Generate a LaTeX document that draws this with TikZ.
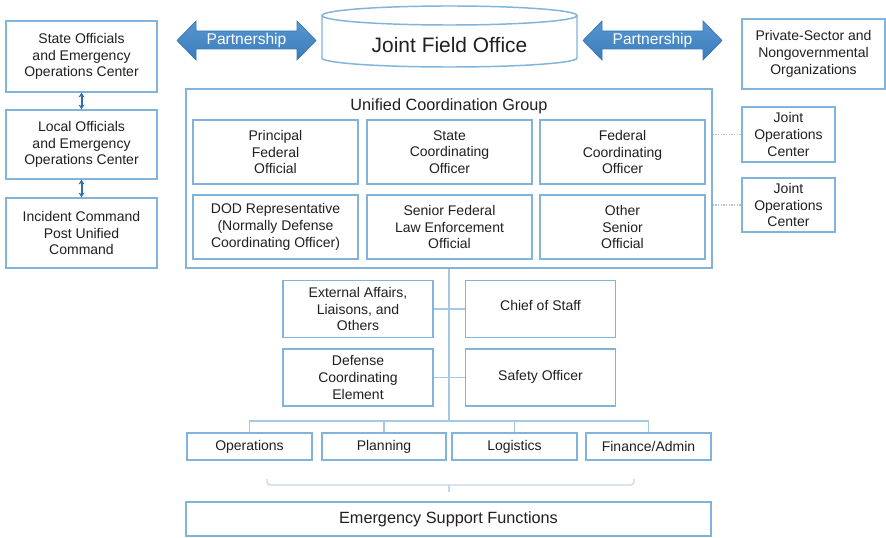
\documentclass[tikz,border=0pt]{standalone}
\usepackage{fontspec}
\setmainfont{Liberation Sans}
\usetikzlibrary{arrows.meta}

\begin{document}
\begin{tikzpicture}[x=0.75pt,y=0.75pt,yscale=-1,xscale=1,
  box/.style={draw={rgb, 255:red, 128; green, 180; blue, 218 }, line width=1.1pt, fill=white,
    inner sep=0pt, align=center, text={rgb, 255:red, 35; green, 31; blue, 32 },
    font=\fontsize{10.5}{12.5}\selectfont},
  link/.style={draw={rgb, 255:red, 165; green, 200; blue, 228 }, line width=0.9pt},
  dotline/.style={draw={rgb, 255:red, 180; green, 196; blue, 212 }, line width=1pt, dash pattern=on 1pt off 1pt},
  updown/.style={draw={rgb, 255:red, 44; green, 112; blue, 172 }, line width=1.5pt,
    {Stealth[length=3.5pt,width=4.5pt]}-{Stealth[length=3.5pt,width=4.5pt]}},
  partner/.style={top color={rgb, 255:red, 88; green, 150; blue, 208 }, bottom color={rgb, 255:red, 58; green, 124; blue, 188 },
    draw={rgb, 255:red, 55; green, 118; blue, 178 }, line width=0.5pt},
  bracket/.style={draw={rgb, 255:red, 196; green, 214; blue, 232 }, line width=0.9pt}
]
\useasboundingbox (0,0) rectangle (886,538);

%Shape: Double Arrow (left)
\draw [partner] (177,40.5) -- (196,21) -- (196,31) -- (297,31) -- (297,21) -- (316,40.5) -- (297,60) -- (297,49) -- (196,49) -- (196,60) -- cycle ;
%Shape: Double Arrow (right)
\draw [partner] (583,40.5) -- (602,21) -- (602,31) -- (703,31) -- (703,21) -- (722,40.5) -- (703,60) -- (703,49) -- (602,49) -- (602,60) -- cycle ;
% Text Node
\node [text=white, font=\fontsize{11.7}{14}\selectfont] (partnerL) at (246.5,40) {Partnership};
% Text Node
\node [text=white, font=\fontsize{11.7}{14}\selectfont] (partnerR) at (652.5,40) {Partnership};

%Shape: Can
\draw [draw={rgb, 255:red, 128; green, 180; blue, 218 }, line width=1.1pt, fill=white] (322,15.5) -- (322,58) arc (180:0:127.5 and 9) -- (577,15.5) ;
\draw [draw={rgb, 255:red, 128; green, 180; blue, 218 }, line width=1.1pt, fill=white] (449.5,15.5) ellipse (127.5 and 9.5) ;
% Text Node
\node [text={rgb, 255:red, 35; green, 31; blue, 32 }, font=\fontsize{15.7}{18}\selectfont] (jfo) at (449.5,45) {Joint Field Office};

%Left column
\node [box, minimum width=113.25pt, minimum height=53.25pt] (state) at (81.5,56.5) {State Officials\\and Emergency\\Operations Center};
\node [box, minimum width=113.25pt, minimum height=51.75pt] (local) at (81.5,144.5) {Local Officials\\and Emergency\\Operations Center};
\node [box, minimum width=113.25pt, minimum height=52.5pt] (icp) at (81.5,233) {Incident Command\\Post Unified\\Command};
\draw [updown] (state.south) -- (local.north) ;
\draw [updown] (local.south) -- (icp.north) ;

%Right column
\node [box, minimum width=107.25pt, minimum height=52.5pt] (private) at (813.5,54) {Private-Sector and\\Nongovernmental\\Organizations};
\node [box, minimum width=69.75pt, minimum height=41.25pt] (joc1) at (788.5,134.5) {Joint\\Operations\\Center};
\node [box, minimum width=69.75pt, minimum height=40.5pt] (joc2) at (788.5,205) {Joint\\Operations\\Center};

%Unified Coordination Group
\node [box, minimum width=394.5pt, minimum height=134.25pt] (ucg) at (449,178.5) {};
\node [text={rgb, 255:red, 35; green, 31; blue, 32 }, font=\fontsize{12.2}{14}\selectfont] (ucgtitle) at (449,106.5) {Unified Coordination Group};
\node [box, minimum width=123.75pt, minimum height=48pt] (pfo) at (275.5,152) {Principal\\Federal\\Official};
\node [box, minimum width=123.75pt, minimum height=48pt] (sco) at (449.5,152) {State\\Coordinating\\Officer};
\node [box, minimum width=123.75pt, minimum height=48pt] (fco) at (622.5,152) {Federal\\Coordinating\\Officer};
\node [box, minimum width=123.75pt, minimum height=48pt] (dod) at (275.5,227) {DOD Representative\\(Normally Defense\\Coordinating Officer)};
\node [box, minimum width=123.75pt, minimum height=48pt] (sfle) at (449.5,227) {Senior Federal\\Law Enforcement\\Official};
\node [box, minimum width=123.75pt, minimum height=48pt] (oso) at (622.5,227) {Other\\Senior\\Official};
\draw [dotline] (ucg.east |- joc1) -- (joc1.west) ;
\draw [dotline] (ucg.east |- joc2) -- (joc2.west) ;

%Command staff
\coordinate (hub) at (449,421) ;
\draw [link] (ucg.south) -- (hub) ;
\node [box, minimum width=112.5pt, minimum height=42.75pt] (ext) at (358,309) {External Affairs,\\Liaisons, and\\Others};
\node [box, minimum width=112.5pt, minimum height=42.75pt] (chief) at (540.5,309) {\raisebox{5pt}{Chief of Staff}};
\node [box, minimum width=112.5pt, minimum height=42.75pt] (dce) at (358,377.5) {Defense\\Coordinating\\Element};
\node [box, minimum width=112.5pt, minimum height=42.75pt] (safety) at (540.5,377.5) {\raisebox{3pt}{Safety Officer}};
\draw [link] (ext) -- (chief) ;
\draw [link] (dce) -- (safety) ;

%General staff
\node [box, minimum width=93.75pt, minimum height=20.25pt] (ops) at (249.5,446.5) {Operations};
\node [box, minimum width=93pt, minimum height=20.25pt] (plan) at (384,446.5) {Planning};
\node [box, minimum width=93.75pt, minimum height=20.25pt] (log) at (514.5,446.5) {Logistics};
\node [box, minimum width=93.75pt, minimum height=20.25pt] (fin) at (648.5,446.5) {Finance/Admin};
\draw [link] (ops.north) |- (hub) -| (fin.north) ;
\draw [link] (plan.north) -- (plan.north |- hub) ;
\draw [link] (log.north) -- (log.north |- hub) ;

%Brace over support functions
\coordinate (brl) at (267,479) ;
\coordinate (brr) at (634,479) ;
\coordinate (brtip) at (449,492) ;
\draw [bracket, rounded corners=2.5pt] (brl) -- (brl |- 0,485) -- (brr |- 0,485) -- (brr) ;
\draw [bracket] (brtip |- 0,485) -- (brtip) ;
\node [box, minimum width=393.75pt, minimum height=25.5pt, font=\fontsize{12.2}{14}\selectfont] (esf) at (448.5,519) {Emergency Support Functions};

\end{tikzpicture}
\end{document}
